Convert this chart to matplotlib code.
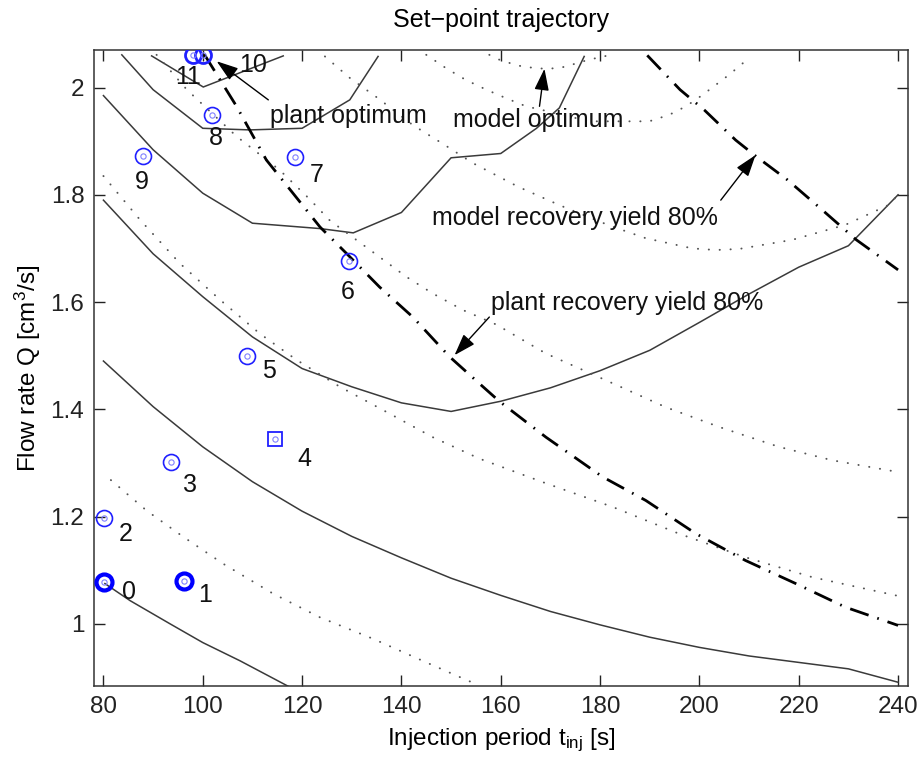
import matplotlib
matplotlib.use('Agg')
import matplotlib.pyplot as plt

plt.rcParams['font.family'] = ['Liberation Sans', 'DejaVu Sans']
plt.rcParams['mathtext.fontset'] = 'custom'
plt.rcParams['mathtext.rm'] = 'Liberation Sans'
plt.rcParams['mathtext.it'] = 'Liberation Sans:italic'

# ---------------- data ----------------
# solid contours (plant)
s1_t = [80.3, 85.4, 93.4, 100.0, 107.5, 117.1, 118.5]
s1_Q = [1.075, 1.043, 1.000, 0.965, 0.931, 0.884, 0.878]

s2_t = [80, 90, 100, 110, 120, 130, 140, 150, 160, 170, 180, 190, 200, 210, 220, 230, 240]
s2_Q = [1.49, 1.405, 1.33, 1.265, 1.21, 1.163, 1.123, 1.085, 1.053, 1.023, 0.998, 0.975,
        0.956, 0.940, 0.928, 0.916, 0.891]

s3_t = [80, 90, 100, 110, 120, 130, 140, 150, 160, 170, 180, 190, 200, 210, 220, 230, 240]
s3_Q = [1.79, 1.69, 1.61, 1.535, 1.476, 1.442, 1.412, 1.396, 1.415, 1.44, 1.472, 1.51,
        1.562, 1.615, 1.665, 1.705, 1.80]

s4_t = [80, 90, 100, 110, 123.6, 130.3, 140, 150, 160, 167.2, 171.8, 176.8]
s4_Q = [1.985, 1.884, 1.803, 1.747, 1.737, 1.729, 1.767, 1.869, 1.877, 1.924, 1.962, 2.058]

s5_t = [83.7, 90, 100, 109.5, 120, 129.6, 135.3]
s5_Q = [2.061, 1.996, 1.924, 1.921, 1.924, 1.977, 2.058]

s6_t = [89.7, 100.1, 116.2]
s6_Q = [2.059, 2.001, 2.059]

# dotted contours (model)
d1_t = [81.5, 88.7, 96.1, 104.1, 114.2, 123.6, 134.3, 145.0, 153.4, 155.5]
d1_Q = [1.268, 1.211, 1.162, 1.112, 1.056, 1.012, 0.972, 0.928, 0.894, 0.886]

d2_t = [80, 87.4, 95.4, 103.5, 111.5, 118.9, 127.6, 137.6, 146.3, 155.7, 169.1, 182.5,
        195.9, 209.3, 222.7, 240]
d2_Q = [1.835, 1.753, 1.672, 1.604, 1.541, 1.492, 1.442, 1.392, 1.348, 1.308, 1.262, 1.218,
        1.168, 1.124, 1.087, 1.052]

d3_t = [90.7, 96.8, 106.8, 115.5, 121.5, 125.6, 130.9, 135.6, 141.0, 146.3, 152.4, 159.1,
        169.1, 181.2, 193.2, 204.0, 216.0, 226.7, 240]
d3_Q = [2.061, 1.996, 1.909, 1.846, 1.792, 1.752, 1.716, 1.684, 1.647, 1.616, 1.585, 1.558,
        1.504, 1.454, 1.404, 1.367, 1.330, 1.305, 1.283]

d4_t = [124.6, 129.6, 135.3, 142.3, 148.7, 154.4, 163.5, 172.0, 181.8, 189.2, 198.6, 203.3,
        208.0, 218.7, 229.4, 238.1, 240]
d4_Q = [2.058, 2.018, 1.980, 1.930, 1.893, 1.859, 1.815, 1.780, 1.743, 1.719, 1.700, 1.697,
        1.699, 1.716, 1.744, 1.781, 1.800]

d5_t = [145.0, 149.0, 153.0, 157.1, 161.1, 165.1, 169.8, 177.8, 185.2, 189.9, 193.9, 197.3,
        200.6, 203.3, 206.0, 209.6]
d5_Q = [2.061, 2.036, 2.014, 1.996, 1.980, 1.965, 1.955, 1.937, 1.937, 1.937, 1.949, 1.965,
        1.986, 2.005, 2.024, 2.052]

d6_t = [157.7, 159.7, 161.7, 164.4, 166.4, 168.8, 171.1, 173.1, 175.5, 177.8, 182.2]
d6_Q = [2.061, 2.052, 2.046, 2.039, 2.037, 2.035, 2.036, 2.039, 2.046, 2.052, 2.061]

# 80 % recovery-yield boundaries (dash-dot)
plant_ry_t = [100.3, 106.8, 112.8, 123.6, 128.9, 135.6, 142.3, 149.7, 155.7, 159.7, 169.1,
              180.5, 189.2, 199.3, 209.3, 219.4, 229.4, 240]
plant_ry_Q = [2.062, 1.965, 1.865, 1.740, 1.691, 1.628, 1.572, 1.498, 1.448, 1.415, 1.348,
              1.274, 1.230, 1.168, 1.118, 1.075, 1.031, 0.997]

model_ry_t = [189.5, 196.1, 201.0, 207.3, 211.5, 217.7, 224.7, 231.6, 240]
model_ry_Q = [2.060, 1.996, 1.958, 1.902, 1.871, 1.828, 1.772, 1.716, 1.660]

# set-point trajectory (iterations 0..11)
iter_labels = ['0', '1', '2', '3', '4', '5', '6', '7', '8', '9', '10', '11']
iter_t = [80.1, 96.3, 80.1, 93.7, 114.6, 108.9, 129.4, 118.5, 101.8, 88.0, 100.0, 98.1]
iter_Q = [1.078, 1.080, 1.198, 1.302, 1.344, 1.499, 1.676, 1.870, 1.948, 1.872, 2.061, 2.061]
label_t = [85.2, 100.4, 84.5, 97.4, 120.5, 113.4, 129.2, 123.0, 102.65, 87.7, 110.15, 97.1]
label_Q = [1.063, 1.056, 1.171, 1.261, 1.311, 1.475, 1.621, 1.839, 1.9085, 1.826, 2.0456, 2.0222]

x_ticks = [80, 100, 120, 140, 160, 180, 200, 220, 240]
y_ticks = [1.0, 1.2, 1.4, 1.6, 1.8, 2.0]
y_ticklabels = ['1', '1.2', '1.4', '1.6', '1.8', '2']

# ---------------- figure ----------------
fig = plt.figure(figsize=(9.21, 7.6), dpi=100)
ax = fig.add_axes([94 / 921, 74 / 760, 814 / 921, 636 / 760])

solid_kw = dict(color='#3a3a3a', lw=1.1, solid_joinstyle='miter')
dot_kw = dict(color='#555555', lw=1.4, linestyle=(0, (0.1, 5.5)), dash_capstyle='round')
dd_kw = dict(color='black', lw=2.0, linestyle=(0, (7.0, 3.3, 0.6, 3.3)), dash_capstyle='butt')

for tt, qq in [(s1_t, s1_Q), (s2_t, s2_Q), (s3_t, s3_Q), (s4_t, s4_Q), (s5_t, s5_Q), (s6_t, s6_Q)]:
    ax.plot(tt, qq, **solid_kw)
for tt, qq in [(d1_t, d1_Q), (d2_t, d2_Q), (d3_t, d3_Q), (d4_t, d4_Q), (d5_t, d5_Q), (d6_t, d6_Q)]:
    ax.plot(tt, qq, **dot_kw)
ax.plot(plant_ry_t, plant_ry_Q, **dd_kw)
ax.plot(model_ry_t, model_ry_Q, **dd_kw)

# markers
blue = '#2020ff'
for i, (tt, qq) in enumerate(zip(iter_t, iter_Q)):
    if i in (0, 1):
        ax.plot(tt, qq, 'o', ms=11.5, mfc='none', mec='#0000ff', mew=3.0, zorder=5)
    elif i == 4:
        ax.plot(tt, qq, 's', ms=9.5, mfc='none', mec=blue, mew=1.3, zorder=5)
    elif i in (10, 11):
        ax.plot(tt, qq, 'o', ms=11.5, mfc='none', mec=blue, mew=2.0, zorder=5)
    else:
        ax.plot(tt, qq, 'o', ms=11.5, mfc='none', mec=blue, mew=1.2, zorder=5)
    ax.plot(tt, qq, 'o', ms=3.8, mfc='none', mec='#8080ff', mew=0.8, zorder=6)

for lab, tt, qq in zip(iter_labels, label_t, label_Q):
    ax.text(tt, qq - 0.0159, lab, fontsize=18, ha='center', va='baseline', color='#111111')

# annotations
txt_kw = dict(fontsize=18, ha='left', va='baseline', color='#111111')
ax.text(113.5, 1.9335, 'plant optimum', **txt_kw)
ax.text(150.35, 1.927, 'model optimum', **txt_kw)
ax.text(146.07, 1.744, 'model recovery yield 80%', **txt_kw)
ax.text(158.07, 1.585, 'plant recovery yield 80%', **txt_kw)

arr_kw = dict(arrowstyle='-|>,head_length=0.95,head_width=0.32', color='black', lw=1.0,
              shrinkA=0, shrinkB=0, mutation_scale=14)
ax.annotate('', xy=(102.8, 2.049), xytext=(113.2, 1.977), arrowprops=arr_kw)
ax.annotate('', xy=(168.8, 2.035), xytext=(167.8, 1.965), arrowprops=arr_kw)
ax.annotate('', xy=(211.3, 1.874), xytext=(204.3, 1.790), arrowprops=arr_kw)
ax.annotate('', xy=(150.7, 1.501), xytext=(157.7, 1.572), arrowprops=arr_kw)

# axes styling
ax.set_xlim(78.1, 242.0)
ax.set_ylim(0.884, 2.070)
ax.set_xticks(x_ticks)
ax.set_xticklabels([str(v) for v in x_ticks])
ax.set_yticks(y_ticks)
ax.set_yticklabels(y_ticklabels)
ax.tick_params(direction='in', length=8, width=1.0, top=True, right=True,
               labelsize=17.5, pad=7, colors='#222222')
for sp in ax.spines.values():
    sp.set_linewidth(1.1)
    sp.set_color('#333333')

ax.set_xlabel(r'Injection period t$_\mathregular{inj}$ [s]', fontsize=17.5, va='baseline')
ax.xaxis.set_label_coords(0.5, (686 - 745) / 636)
ax.set_ylabel(r'Flow rate Q [cm$^\mathregular{3}$/s]', fontsize=17.5, va='center')
ax.yaxis.set_label_coords((28 - 94) / 814, 0.5)
ax.set_title('Set\u2212point trajectory', fontsize=18, y=(686 - 26.7) / 636, pad=0, va='baseline')

fig.savefig('out.png', dpi=100)
